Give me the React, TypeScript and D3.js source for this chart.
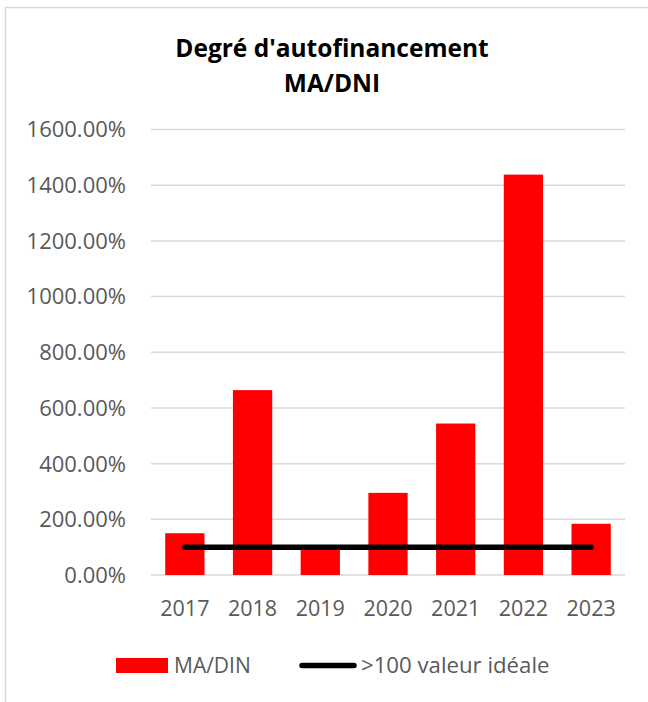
import React from "react";
import * as d3 from "d3";

const years = ["2017", "2018", "2019", "2020", "2021", "2022", "2023"];
const maDin = [150, 664, 95, 295, 544, 1438, 184];
const ideal = [100, 100, 100, 100, 100, 100, 100];
const yTicks = [0, 200, 400, 600, 800, 1000, 1200, 1400, 1600];
const titleLines = ["Degré d'autofinancement", "MA/DNI"];
const legendLabels = ["MA/DIN", ">100 valeur idéale"];

const W = 648;
const H = 702;
const FONT = "'Open Sans', sans-serif";

export default function App() {
  const x = d3.scaleBand().domain(years).range([151, 625]).paddingInner(0.42).paddingOuter(0.21);
  const y = d3.scaleLinear().domain([0, 1600]).range([575, 129.5]);
  const line = d3
    .line<number>()
    .x((_, i) => (x(years[i]) as number) + x.bandwidth() / 2)
    .y((d) => y(d));

  return (
    <svg
      width={W}
      height={H}
      style={{ position: "absolute", left: 0, top: 0, background: "#fff" }}
      fontFamily={FONT}
    >
      <rect x={5.5} y={7.5} width={W} height={H} fill="#fff" stroke="#d9d9d9" strokeWidth={1.5} />
      {titleLines.map((t, i) => (
        <text key={t} x={332} y={57 + i * 34.5} textAnchor="middle" fontWeight="bold" fontSize={24.5} fill="#000">
          {t}
        </text>
      ))}
      {yTicks.map((t) => (
        <g key={t}>
          <line x1={151} x2={625} y1={y(t)} y2={y(t)} stroke="#d9d9d9" strokeWidth={1.5} />
          <text x={126} y={y(t)} dy="0.36em" textAnchor="end" fontSize={22} fill="#595959">
            {d3.format(".2f")(t) + "%"}
          </text>
        </g>
      ))}
      {maDin.map((v, i) => (
        <rect
          key={years[i]}
          x={x(years[i])}
          y={y(v)}
          width={x.bandwidth()}
          height={y(0) - y(v)}
          fill="#ff0000"
        />
      ))}
      <path d={line(ideal) || ""} fill="none" stroke="#000" strokeWidth={5.5} strokeLinecap="round" />
      {years.map((yr) => (
        <text
          key={yr}
          x={(x(yr) as number) + x.bandwidth() / 2}
          y={616}
          textAnchor="middle"
          fontSize={21.5}
          fill="#595959"
        >
          {yr}
        </text>
      ))}
      <rect x={116} y={658} width={52} height={15} fill="#ff0000" />
      <text x={174} y={673} fontSize={21} fill="#595959">
        {legendLabels[0]}
      </text>
      <line x1={302} x2={354} y1={665.5} y2={665.5} stroke="#000" strokeWidth={5.5} strokeLinecap="round" />
      <text x={361} y={673} fontSize={22.2} fill="#595959">
        {legendLabels[1]}
      </text>
    </svg>
  );
}
